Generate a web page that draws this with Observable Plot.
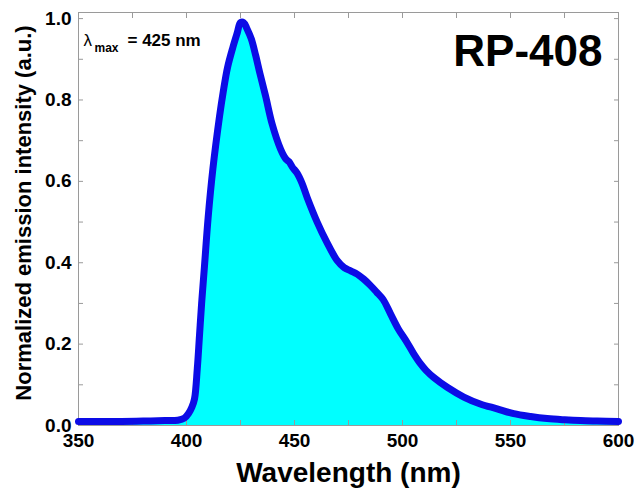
<!DOCTYPE html>
<html>
<head>
<meta charset="utf-8">
<script src="https://cdn.jsdelivr.net/npm/d3@7"></script>
<script src="https://cdn.jsdelivr.net/npm/@observablehq/plot@0.6"></script>
<style>
  html, body { margin: 0; padding: 0; background: #fff; }
</style>
</head>
<body>
<div id="chart"></div>
<script>
// Emission spectrum of RP-408
const wavelength = [350, 360, 370, 380, 390, 396, 399, 401, 402.5, 403.7, 405, 406, 407, 408.3, 410, 412.2, 415.3, 417, 419, 421.5, 423.5, 425, 426.5, 428, 430, 432, 434, 436.6, 439.7, 443.5, 446, 447.5, 449, 451.2, 453.5, 455.9, 460.5, 465, 469.8, 473, 476, 479, 482, 485, 488, 491, 494.4, 498, 502, 505, 508.3, 511, 514.5, 520.7, 528.4, 536, 543.8, 551.5, 559.3, 567, 575, 582.4, 590, 600];
const intensity  = [0.010, 0.010, 0.010, 0.011, 0.012, 0.013, 0.018, 0.030, 0.045, 0.065, 0.14, 0.22, 0.30, 0.39, 0.51, 0.63, 0.76, 0.82, 0.88, 0.93, 0.965, 0.99, 0.99, 0.975, 0.95, 0.91, 0.865, 0.81, 0.74, 0.68, 0.655, 0.648, 0.635, 0.62, 0.595, 0.56, 0.50, 0.45, 0.405, 0.388, 0.38, 0.372, 0.36, 0.345, 0.328, 0.31, 0.275, 0.238, 0.205, 0.178, 0.152, 0.135, 0.118, 0.094, 0.070, 0.053, 0.041, 0.029, 0.022, 0.017, 0.014, 0.012, 0.011, 0.010];

const xTicks  = [350, 375, 400, 425, 450, 475, 500, 525, 550, 575, 600];
const xLabels = [350, 400, 450, 500, 550, 600];
const yTicks  = [0, 0.1, 0.2, 0.3, 0.4, 0.5, 0.6, 0.7, 0.8, 0.9, 1.0];
const yLabels = [0, 0.2, 0.4, 0.6, 0.8, 1.0];

const seriesName = "RP-408";
const peakLabel = ["λ", "max", "= 425 nm"];
const xTitle = "Wavelength (nm)";
const yTitle = "Normalized emission intensity (a.u.)";

const data = wavelength.map((w, i) => ({w, v: intensity[i]}));

const gray = "#9a9a9a";
const font = "'Liberation Sans', Arial, Helvetica, sans-serif";

const chart = Plot.plot({
  width: 640,
  height: 498,
  marginLeft: 78,
  marginRight: 22,
  marginTop: 12,
  marginBottom: 73,
  style: {fontFamily: font, fontWeight: "bold", fontSize: "19px", color: "#000", background: "#fff"},
  x: {domain: [350, 600], axis: null, label: null},
  y: {domain: [0, 1.015], axis: null, label: null},
  marks: [
    Plot.areaY(data, {x: "w", y: "v", fill: "#00ffff", curve: "catmull-rom"}),
    Plot.frame({stroke: gray}),
    // inward ticks on all four sides
    Plot.axisX(xTicks, {anchor: "bottom", label: null, tickSize: 5, dy: -5, stroke: gray, tickFormat: () => ""}),
    Plot.axisX(xTicks, {anchor: "top", label: null, tickSize: 5, dy: 5, stroke: gray, tickFormat: () => ""}),
    Plot.axisY(yTicks, {anchor: "left", label: null, tickSize: 5, dx: 5, stroke: gray, tickFormat: () => ""}),
    Plot.axisY(yTicks, {anchor: "right", label: null, tickSize: 5, dx: -5, stroke: gray, tickFormat: () => ""}),
    Plot.line(data, {x: "w", y: "v", stroke: "#0c0ce6", strokeWidth: 7, strokeLinejoin: "round", curve: "catmull-rom"}),
    // tick labels
    Plot.axisX(xLabels, {anchor: "bottom", label: null, tickSize: 0, tickPadding: 8, fontSize: 19, fontWeight: "bold", fill: "#000", tickFormat: d => String(d)}),
    Plot.axisY(yLabels, {anchor: "left", label: null, tickSize: 0, tickPadding: 7, fontSize: 19, fontWeight: "bold", fill: "#000", tickFormat: d3.format(".1f")}),
    // axis titles
    Plot.text([xTitle], {text: d => d, frameAnchor: "bottom", textAnchor: "middle", dy: 56, fontSize: 28, fontWeight: "bold", fill: "#000"}),
    Plot.text([yTitle], {text: d => d, frameAnchor: "left", textAnchor: "middle", rotate: -90, dx: -55, dy: -6, fontSize: 22, fontWeight: "bold", fill: "#000"}),
    // annotations
    Plot.text([seriesName], {text: d => d, frameAnchor: "top-right", textAnchor: "end", lineAnchor: "bottom", dx: -16, dy: 53, fontSize: 44, fontWeight: "bold", fill: "#000"}),
    Plot.text([peakLabel[0]], {text: d => d, frameAnchor: "top-left", textAnchor: "start", lineAnchor: "bottom", dx: 5, dy: 33, fontSize: 17, fontWeight: "normal", fill: "#000"}),
    Plot.text([peakLabel[1]], {text: d => d, frameAnchor: "top-left", textAnchor: "start", lineAnchor: "bottom", dx: 16, dy: 39, fontSize: 12, fontWeight: "bold", fill: "#000"}),
    Plot.text([peakLabel[2]], {text: d => d, frameAnchor: "top-left", textAnchor: "start", lineAnchor: "bottom", dx: 49, dy: 33, fontSize: 17, fontWeight: "bold", fill: "#000"})
  ]
});

document.getElementById("chart").appendChild(chart);
</script>
</body>
</html>
